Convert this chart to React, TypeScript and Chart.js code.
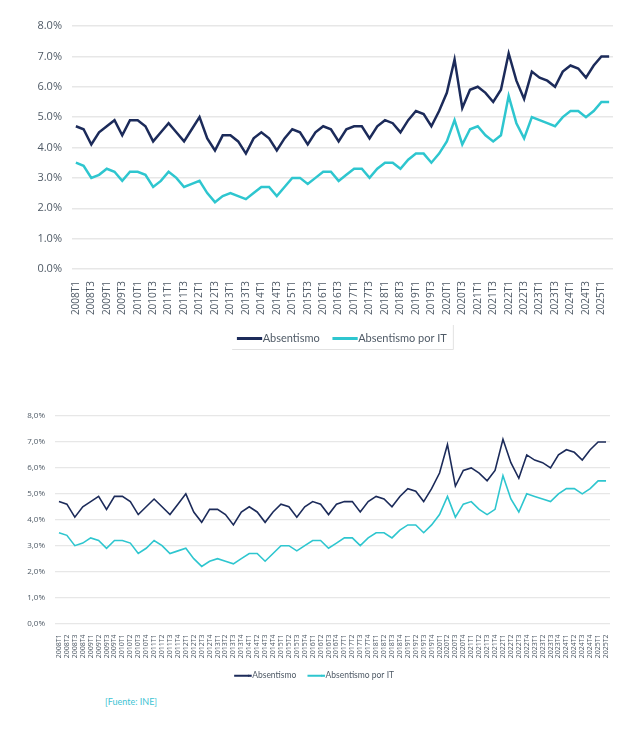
import React, { useEffect, useRef } from "react";
import { Chart, registerables } from "chart.js";

Chart.register(...registerables);

const quarterLabels = [
  "2008T1","2008T2","2008T3","2008T4","2009T1","2009T2","2009T3","2009T4",
  "2010T1","2010T2","2010T3","2010T4","2011T1","2011T2","2011T3","2011T4",
  "2012T1","2012T2","2012T3","2012T4","2013T1","2013T2","2013T3","2013T4",
  "2014T1","2014T2","2014T3","2014T4","2015T1","2015T2","2015T3","2015T4",
  "2016T1","2016T2","2016T3","2016T4","2017T1","2017T2","2017T3","2017T4",
  "2018T1","2018T2","2018T3","2018T4","2019T1","2019T2","2019T3","2019T4",
  "2020T1","2020T2","2020T3","2020T4","2021T1","2021T2","2021T3","2021T4",
  "2022T1","2022T2","2022T3","2022T4","2023T1","2023T2","2023T3","2023T4",
  "2024T1","2024T2","2024T3","2024T4","2025T1","2025T2",
];

const absentismo = [
  4.7, 4.6, 4.1, 4.5, 4.7, 4.9, 4.4, 4.9, 4.9, 4.7,
  4.2, 4.5, 4.8, 4.5, 4.2, 4.6, 5.0, 4.3, 3.9, 4.4,
  4.4, 4.2, 3.8, 4.3, 4.5, 4.3, 3.9, 4.3, 4.6, 4.5,
  4.1, 4.5, 4.7, 4.6, 4.2, 4.6, 4.7, 4.7, 4.3, 4.7,
  4.9, 4.8, 4.5, 4.9, 5.2, 5.1, 4.7, 5.2, 5.8, 6.9,
  5.3, 5.9, 6.0, 5.8, 5.5, 5.9, 7.1, 6.2, 5.6, 6.5,
  6.3, 6.2, 6.0, 6.5, 6.7, 6.6, 6.3, 6.7, 7.0, 7.0,
];

const absentismoIT = [
  3.5, 3.4, 3.0, 3.1, 3.3, 3.2, 2.9, 3.2, 3.2, 3.1,
  2.7, 2.9, 3.2, 3.0, 2.7, 2.8, 2.9, 2.5, 2.2, 2.4,
  2.5, 2.4, 2.3, 2.5, 2.7, 2.7, 2.4, 2.7, 3.0, 3.0,
  2.8, 3.0, 3.2, 3.2, 2.9, 3.1, 3.3, 3.3, 3.0, 3.3,
  3.5, 3.5, 3.3, 3.6, 3.8, 3.8, 3.5, 3.8, 4.2, 4.9,
  4.1, 4.6, 4.7, 4.4, 4.2, 4.4, 5.7, 4.8, 4.3, 5.0,
  4.9, 4.8, 4.7, 5.0, 5.2, 5.2, 5.0, 5.2, 5.5, 5.5,
];

const seriesNames = ["Absentismo", "Absentismo por IT"];
const sourceText = "[Fuente: INE]";

const NAVY = "#1c2b5a";
const CYAN = "#2ec6cf";
const TICK = "#4f5a66";
const GRID = "#e7e7e7";
const FONT = "'Open Sans', 'Noto Sans', sans-serif";
const LEGEND_FONT = "Lato, 'Open Sans', sans-serif";

function legendJoinPlugin(fontSize: number, boxWidth: number, boxHeight: number) {
  return {
    id: "legendJoin",
    afterDraw(chart: any) {
      const lg = chart.legend;
      if (!lg || !lg.legendHitBoxes || !lg.legendItems) return;
      const ctx = chart.ctx;
      ctx.save();
      lg.legendItems.forEach((item: any, i: number) => {
        const hb = lg.legendHitBoxes[i];
        if (!hb) return;
        const lw = item.lineWidth || 0;
        const h = boxHeight + lw;
        const cy = hb.top + Math.max((fontSize - boxHeight) / 2, 0) + boxHeight / 2;
        ctx.fillStyle = item.strokeStyle;
        ctx.fillRect(hb.left + boxWidth, cy - h / 2, fontSize / 2 - 0.5, h);
      });
      ctx.restore();
    },
  };
}

const legendBorderPlugin = {
  id: "legendBorder",
  afterDraw(chart: any) {
    const lg = chart.legend;
    if (!lg || !lg.legendHitBoxes || !lg.legendHitBoxes.length) return;
    const boxes = lg.legendHitBoxes;
    const first = boxes[0];
    const last = boxes[boxes.length - 1];
    const left = first.left - 6;
    const right = last.left + last.width + 6;
    const bottom = first.top + first.height + 5;
    const top = first.top - 8;
    const ctx = chart.ctx;
    ctx.save();
    ctx.strokeStyle = "#e2e2e2";
    ctx.lineWidth = 1;
    ctx.beginPath();
    ctx.moveTo(left, bottom + 0.5);
    ctx.lineTo(right + 0.5, bottom + 0.5);
    ctx.lineTo(right + 0.5, top);
    ctx.stroke();
    ctx.restore();
  },
};

function makeConfig(variant: "top" | "bottom"): any {
  const isTop = variant === "top";
  const lw = isTop ? 2.5 : 1.6;
  const legendFontSize = isTop ? 11 : 8.5;
  const legendBoxW = isTop ? 19 : 13;
  const legendBoxH = 0.5;
  return {
    type: "line",
    data: {
      labels: quarterLabels,
      datasets: [
        {
          label: seriesNames[0],
          data: absentismo,
          borderColor: NAVY,
          backgroundColor: NAVY,
          borderWidth: lw,
          pointRadius: 0,
          tension: 0,
        },
        {
          label: seriesNames[1],
          data: absentismoIT,
          borderColor: CYAN,
          backgroundColor: CYAN,
          borderWidth: lw,
          pointRadius: 0,
          tension: 0,
        },
      ],
    },
    options: {
      animation: false,
      responsive: true,
      maintainAspectRatio: false,
      layout: {
        padding: isTop
          ? { left: 0, right: 7, top: 26, bottom: 6 }
          : { left: 19, right: 10, top: 36, bottom: 5 },
      },
      plugins: {
        tooltip: { enabled: false },
        legend: {
          position: "bottom",
          fullSize: !isTop,
          labels: {
            boxWidth: legendBoxW,
            boxHeight: legendBoxH,
            padding: isTop ? 14 : 12,
            color: TICK,
            font: { family: LEGEND_FONT, size: legendFontSize },
          },
        },
      },
      scales: {
        x: {
          offset: true,
          grid: { display: false },
          border: { display: false },
          afterFit: (s: any) => {
            s.height = isTop ? 50 : 36;
          },
          ticks: {
            autoSkip: false,
            maxRotation: 90,
            minRotation: 90,
            padding: isTop ? 4 : 3,
            color: TICK,
            font: { family: FONT, size: isTop ? 10 : 7 },
            callback: function (this: any, _v: any, i: number) {
              const lab = quarterLabels[i];
              if (isTop) return i % 2 === 0 ? lab : null;
              return lab;
            },
          },
        },
        y: {
          min: 0,
          max: 8,
          afterFit: (s: any) => {
            s.width = isTop ? 72 : 36;
          },
          grid: { color: GRID, lineWidth: isTop ? 1.5 : 1.2, drawTicks: false },
          border: { display: false },
          ticks: {
            stepSize: 1,
            padding: 10,
            color: TICK,
            font: { family: FONT, size: isTop ? 11 : 8 },
            callback: (v: any) => {
              const s = Number(v).toFixed(1) + "%";
              return isTop ? s : s.replace(".", ",");
            },
          },
        },
      },
    },
    plugins: isTop
      ? [legendJoinPlugin(legendFontSize, legendBoxW, legendBoxH), legendBorderPlugin]
      : [legendJoinPlugin(legendFontSize, legendBoxW, legendBoxH)],
  };
}

function LineChart({ variant }: { variant: "top" | "bottom" }) {
  const ref = useRef<HTMLCanvasElement | null>(null);
  useEffect(() => {
    if (!ref.current) return;
    const chart = new Chart(ref.current, makeConfig(variant));
    return () => chart.destroy();
  }, [variant]);
  return <canvas ref={ref} />;
}

export default function App() {
  return (
    <div
      style={{
        position: "absolute",
        left: 0,
        top: 0,
        width: 620,
        height: 735,
        background: "#ffffff",
        overflow: "hidden",
      }}
    >
      <div style={{ position: "absolute", left: 0, top: 0, width: 620, height: 360 }}>
        <LineChart variant="top" />
      </div>
      <div style={{ position: "absolute", left: 0, top: 380, width: 620, height: 315 }}>
        <LineChart variant="bottom" />
      </div>
      <div
        style={{
          position: "absolute",
          left: 105,
          top: 696,
          fontFamily: LEGEND_FONT,
          fontSize: 9,
          color: "#3cc3d3",
        }}
      >
        {sourceText}
      </div>
    </div>
  );
}
